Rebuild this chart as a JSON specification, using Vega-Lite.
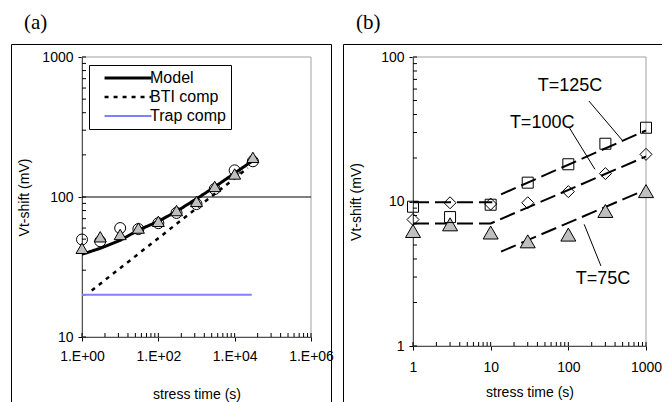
{
  "$schema": "https://vega.github.io/schema/vega-lite/v6.json",
  "padding": {"left": 10, "top": 11, "right": 0, "bottom": 0},
  "bounds": "flush",
  "spacing": 12,
  "background": "white",
  "config": {
    "font": "Liberation Sans",
    "view": {"stroke": "black", "strokeWidth": 1},
    "axis": {"domainColor": "black", "tickColor": "black", "labelColor": "black", "titleColor": "black", "labelFont": "Liberation Sans", "titleFont": "Liberation Sans", "labelFontSize": 14, "titleFontSize": 14, "titleFontWeight": "normal", "grid": false, "labelOverlap": false, "labelFlush": false, "labelBound": false, "domainWidth": 1, "tickWidth": 1, "tickSize": 4},
    "title": {"font": "Liberation Serif", "fontSize": 21, "fontWeight": "normal", "color": "black", "anchor": "start", "frame": "group", "baseline": "alphabetic", "offset": 11, "dx": 13}
  },
  "datasets": {
    "a_frame": [{"x1": 1, "x2": 1000000, "y1": 10, "y2": 1000}],
    "a_grid": [{"x1": 1, "x2": 1000000, "y": 100}],
    "a_xticks": [
      {"tick": 1}, {"tick": 4}, {"tick": 9}, {"tick": 16}, {"tick": 25}, {"tick": 36}, {"tick": 49}, {"tick": 64}, {"tick": 81},
      {"tick": 100}, {"tick": 400}, {"tick": 900}, {"tick": 1600}, {"tick": 2500}, {"tick": 3600}, {"tick": 4900}, {"tick": 6400}, {"tick": 8100},
      {"tick": 10000}, {"tick": 40000}, {"tick": 90000}, {"tick": 160000}, {"tick": 250000}, {"tick": 360000}, {"tick": 490000}, {"tick": 640000}, {"tick": 810000},
      {"tick": 1000000}
    ],
    "a_yticks": [
      {"tick": 10}, {"tick": 20}, {"tick": 30}, {"tick": 40}, {"tick": 50}, {"tick": 60}, {"tick": 70}, {"tick": 80}, {"tick": 90},
      {"tick": 100}, {"tick": 200}, {"tick": 300}, {"tick": 400}, {"tick": 500}, {"tick": 600}, {"tick": 700}, {"tick": 800}, {"tick": 900},
      {"tick": 1000}
    ],
    "a_lines": [
      {"series": "Trap comp", "t": 1, "v": 20},
      {"series": "Trap comp", "t": 28000, "v": 20},
      {"series": "BTI comp", "t": 1.8, "v": 21.5},
      {"series": "BTI comp", "t": 22000, "v": 161},
      {"series": "Model", "t": 1, "v": 39},
      {"series": "Model", "t": 3, "v": 43},
      {"series": "Model", "t": 10, "v": 49},
      {"series": "Model", "t": 30, "v": 58},
      {"series": "Model", "t": 100, "v": 67},
      {"series": "Model", "t": 300, "v": 79},
      {"series": "Model", "t": 1000, "v": 97},
      {"series": "Model", "t": 3000, "v": 118},
      {"series": "Model", "t": 10000, "v": 148},
      {"series": "Model", "t": 30000, "v": 182}
    ],
    "a_circ": [
      {"t": 1, "v": 49.7}, {"t": 3, "v": 48.3}, {"t": 10, "v": 60}, {"t": 30, "v": 59}, {"t": 100, "v": 65},
      {"t": 300, "v": 77}, {"t": 1000, "v": 89}, {"t": 3000, "v": 114}, {"t": 10000, "v": 155}, {"t": 30000, "v": 180}
    ],
    "a_tri": [
      {"t": 1, "v": 43}, {"t": 3, "v": 52}, {"t": 10, "v": 54}, {"t": 30, "v": 60}, {"t": 100, "v": 67},
      {"t": 300, "v": 80}, {"t": 1000, "v": 93}, {"t": 3000, "v": 119}, {"t": 10000, "v": 146}, {"t": 30000, "v": 192}
    ],
    "b_frame": [{"x1": 1, "x2": 1000, "y1": 1, "y2": 100}],
    "b_xticks": [
      {"tick": 1}, {"tick": 2}, {"tick": 3}, {"tick": 4}, {"tick": 5}, {"tick": 6}, {"tick": 7}, {"tick": 8}, {"tick": 9},
      {"tick": 10}, {"tick": 20}, {"tick": 30}, {"tick": 40}, {"tick": 50}, {"tick": 60}, {"tick": 70}, {"tick": 80}, {"tick": 90},
      {"tick": 100}, {"tick": 200}, {"tick": 300}, {"tick": 400}, {"tick": 500}, {"tick": 600}, {"tick": 700}, {"tick": 800}, {"tick": 900},
      {"tick": 1000}
    ],
    "b_yticks": [
      {"tick": 1}, {"tick": 2}, {"tick": 3}, {"tick": 4}, {"tick": 5}, {"tick": 6}, {"tick": 7}, {"tick": 8}, {"tick": 9},
      {"tick": 10}, {"tick": 20}, {"tick": 30}, {"tick": 40}, {"tick": 50}, {"tick": 60}, {"tick": 70}, {"tick": 80}, {"tick": 90},
      {"tick": 100}
    ],
    "b_fits": [
      {"fit": "f10", "t": 1, "v": 9.9},
      {"fit": "f10", "t": 10.5, "v": 9.9},
      {"fit": "f100", "t": 1, "v": 7.05},
      {"fit": "f100", "t": 10, "v": 7.05},
      {"fit": "f100", "t": 1000, "v": 20.5},
      {"fit": "f125", "t": 13.6, "v": 11.2},
      {"fit": "f125", "t": 1000, "v": 31},
      {"fit": "f75", "t": 13.6, "v": 4.5},
      {"fit": "f75", "t": 1000, "v": 12.1}
    ],
    "b_leaders": [
      {"t": 184, "v": 49.6, "t2": 505, "v2": 26.2},
      {"t": 103, "v": 32.4, "t2": 220, "v2": 16.7},
      {"t": 160, "v": 6.95, "t2": 263, "v2": 3.58}
    ],
    "b_labels": [
      {"label": "T=125C", "t": 105, "v": 63},
      {"label": "T=100C", "t": 46, "v": 35},
      {"label": "T=75C", "t": 279, "v": 2.9}
    ],
    "b_sq": [
      {"t": 1, "v": 9.2}, {"t": 3, "v": 7.8}, {"t": 10, "v": 9.5}, {"t": 30, "v": 13.5},
      {"t": 100, "v": 18.1}, {"t": 300, "v": 25.1}, {"t": 1000, "v": 32.4}
    ],
    "b_di": [
      {"t": 1, "v": 7.5}, {"t": 3, "v": 9.8}, {"t": 10, "v": 9.6}, {"t": 30, "v": 9.8},
      {"t": 100, "v": 11.7}, {"t": 300, "v": 15.6}, {"t": 1000, "v": 21.2}
    ],
    "b_tr": [
      {"t": 1, "v": 6.25}, {"t": 3, "v": 6.95}, {"t": 10, "v": 6.1}, {"t": 30, "v": 5.3},
      {"t": 100, "v": 5.9}, {"t": 300, "v": 8.6}, {"t": 1000, "v": 11.8}
    ]
  },
  "hconcat": [
    {
      "width": 320,
      "height": 360,
      "title": {"text": "(a)"},
      "layer": [
        {
          "data": {"name": "a_frame"},
          "mark": {"type": "rect", "filled": false, "stroke": "#a0a0a0", "strokeWidth": 1},
          "encoding": {
            "x": {"field": "x1", "type": "quantitative", "scale": {"type": "log", "domain": [1, 1000000], "range": [71, 300], "nice": false},
                  "axis": {"orient": "bottom", "offset": -67,
                           "values": [1, 100, 10000, 1000000],
                           "labelExpr": "'1.E+0' + round(log(datum.value) / LN10)",
                           "labelPadding": 8, "title": "stress time (s)", "titlePadding": 24}},
            "x2": {"field": "x2"},
            "y": {"field": "y1", "type": "quantitative", "scale": {"type": "log", "domain": [10, 1000], "range": [293, 13], "nice": false},
                  "axis": {"orient": "left", "offset": -71,
                           "values": [10, 100, 1000], "format": "d",
                           "labelPadding": 5, "title": "Vt-shift (mV)", "titlePadding": 10}},
            "y2": {"field": "y2"}
          }
        },
        {
          "data": {"name": "a_grid"},
          "mark": {"type": "rule", "color": "black", "strokeWidth": 1},
          "encoding": {
            "x": {"field": "x1", "type": "quantitative"},
            "x2": {"field": "x2"},
            "y": {"field": "y", "type": "quantitative"}
          }
        },
        {
          "data": {"name": "a_xticks"},
          "mark": {"type": "rule", "color": "black", "strokeWidth": 1},
          "encoding": {
            "x": {"field": "tick", "type": "quantitative"},
            "y": {"datum": 10},
            "y2": {"datum": 10.68}
          }
        },
        {
          "data": {"name": "a_yticks"},
          "mark": {"type": "rule", "color": "black", "strokeWidth": 1},
          "encoding": {
            "y": {"field": "tick", "type": "quantitative"},
            "x": {"datum": 1},
            "x2": {"datum": 1.273}
          }
        },
        {
          "data": {"name": "a_lines"},
          "mark": {"type": "line"},
          "encoding": {
            "x": {"field": "t", "type": "quantitative"},
            "y": {"field": "v", "type": "quantitative"},
            "color": {"field": "series", "type": "nominal", "scale": {"domain": ["Model", "BTI comp", "Trap comp"], "range": ["black", "black", "#8080ff"]},
                      "legend": {"orient": "none", "legendX": 78, "legendY": 21, "title": null, "strokeColor": "black", "fillColor": "white", "padding": 5, "symbolType": "stroke", "symbolSize": 2200, "symbolOffset": 9, "labelOffset": -3, "labelFontSize": 16, "labelFont": "Liberation Sans", "labelColor": "black", "rowPadding": 3, "clipHeight": 16, "cornerRadius": 0}},
            "strokeDash": {"field": "series", "type": "nominal", "scale": {"domain": ["Model", "BTI comp", "Trap comp"], "range": [[1, 0], [4, 5], [1, 0]]},
                      "legend": {"orient": "none", "legendX": 78, "legendY": 21, "title": null, "strokeColor": "black", "fillColor": "white", "padding": 5, "symbolType": "stroke", "symbolSize": 2200, "symbolOffset": 9, "labelOffset": -3, "labelFontSize": 16, "labelFont": "Liberation Sans", "labelColor": "black", "rowPadding": 3, "clipHeight": 16, "cornerRadius": 0}},
            "strokeWidth": {"field": "series", "type": "nominal", "scale": {"domain": ["Model", "BTI comp", "Trap comp"], "range": [3, 2, 3]},
                      "legend": {"orient": "none", "legendX": 78, "legendY": 21, "title": null, "strokeColor": "black", "fillColor": "white", "padding": 5, "symbolType": "stroke", "symbolSize": 2200, "symbolOffset": 9, "labelOffset": -3, "labelFontSize": 16, "labelFont": "Liberation Sans", "labelColor": "black", "rowPadding": 3, "clipHeight": 16, "cornerRadius": 0}}
          }
        },
        {
          "data": {"name": "a_circ"},
          "mark": {"type": "point", "shape": "circle", "filled": false, "stroke": "black", "strokeWidth": 1, "size": 121, "opacity": 1},
          "encoding": {
            "x": {"field": "t", "type": "quantitative"},
            "y": {"field": "v", "type": "quantitative"}
          }
        },
        {
          "data": {"name": "a_tri"},
          "mark": {"type": "point", "shape": "triangle-up", "filled": true, "fill": "#bfbfbf", "stroke": "black", "strokeWidth": 1, "size": 144, "opacity": 1},
          "encoding": {
            "x": {"field": "t", "type": "quantitative"},
            "y": {"field": "v", "type": "quantitative"}
          }
        }
      ]
    },
    {
      "width": 320,
      "height": 360,
      "title": {"text": "(b)"},
      "layer": [
        {
          "data": {"name": "b_frame"},
          "mark": {"type": "rect", "filled": false, "stroke": "#a0a0a0", "strokeWidth": 1},
          "encoding": {
            "x": {"field": "x1", "type": "quantitative", "scale": {"type": "log", "domain": [1, 1000], "range": [70, 303], "nice": false},
                  "axis": {"orient": "bottom", "offset": -58,
                           "values": [1, 10, 100, 1000], "format": "d",
                           "labelPadding": 10, "title": "stress time (s)", "titlePadding": 11}},
            "x2": {"field": "x2"},
            "y": {"field": "y1", "type": "quantitative", "scale": {"type": "log", "domain": [1, 100], "range": [302, 13], "nice": false},
                  "axis": {"orient": "left", "offset": -70,
                           "values": [1, 10, 100], "format": "d",
                           "labelPadding": 5, "title": "Vt-shift (mV)", "titlePadding": 17}},
            "y2": {"field": "y2"}
          }
        },
        {
          "data": {"name": "b_xticks"},
          "mark": {"type": "rule", "color": "black", "strokeWidth": 1},
          "encoding": {
            "x": {"field": "tick", "type": "quantitative"},
            "y": {"datum": 1},
            "y2": {"datum": 1.066}
          }
        },
        {
          "data": {"name": "b_yticks"},
          "mark": {"type": "rule", "color": "black", "strokeWidth": 1},
          "encoding": {
            "y": {"field": "tick", "type": "quantitative"},
            "x": {"datum": 1},
            "x2": {"datum": 1.126}
          }
        },
        {
          "data": {"name": "b_fits"},
          "mark": {"type": "line", "color": "black", "strokeWidth": 2, "strokeDash": [16, 6]},
          "encoding": {
            "x": {"field": "t", "type": "quantitative"},
            "y": {"field": "v", "type": "quantitative"},
            "detail": {"field": "fit", "type": "nominal"}
          }
        },
        {
          "data": {"name": "b_leaders"},
          "mark": {"type": "rule", "color": "black", "strokeWidth": 1},
          "encoding": {
            "x": {"field": "t", "type": "quantitative"},
            "x2": {"field": "t2"},
            "y": {"field": "v", "type": "quantitative"},
            "y2": {"field": "v2"}
          }
        },
        {
          "data": {"name": "b_labels"},
          "mark": {"type": "text", "font": "Liberation Sans", "fontSize": 18, "color": "black", "align": "center", "baseline": "middle"},
          "encoding": {
            "x": {"field": "t", "type": "quantitative"},
            "y": {"field": "v", "type": "quantitative"},
            "text": {"field": "label"}
          }
        },
        {
          "data": {"name": "b_tr"},
          "mark": {"type": "point", "shape": "triangle-up", "filled": true, "fill": "#bfbfbf", "stroke": "black", "strokeWidth": 1, "size": 225, "opacity": 1},
          "encoding": {
            "x": {"field": "t", "type": "quantitative"},
            "y": {"field": "v", "type": "quantitative"}
          }
        },
        {
          "data": {"name": "b_sq"},
          "mark": {"type": "point", "shape": "square", "filled": false, "stroke": "black", "strokeWidth": 1, "size": 121, "opacity": 1},
          "encoding": {
            "x": {"field": "t", "type": "quantitative"},
            "y": {"field": "v", "type": "quantitative"}
          }
        },
        {
          "data": {"name": "b_di"},
          "mark": {"type": "point", "shape": "diamond", "filled": false, "stroke": "black", "strokeWidth": 1, "size": 144, "opacity": 1},
          "encoding": {
            "x": {"field": "t", "type": "quantitative"},
            "y": {"field": "v", "type": "quantitative"}
          }
        }
      ]
    }
  ]
}
